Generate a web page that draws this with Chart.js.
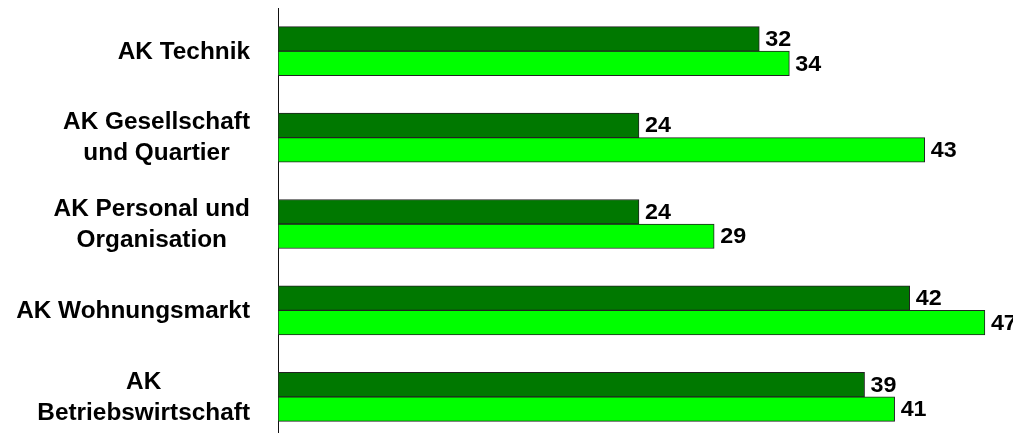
<!DOCTYPE html>
<html>
<head>
<meta charset="utf-8">
<script src="https://cdn.jsdelivr.net/npm/chart.js@4"></script>
<style>
    html, body { margin: 0; padding: 0; background: #fff; overflow: hidden; }
</style>
</head>
<body>
<canvas id="akChart" width="1030" height="440"></canvas>
<script>
// data
const categories = [
    ["AK Technik"],
    ["AK Gesellschaft", "und Quartier"],
    ["AK Personal und", "Organisation"],
    ["AK Wohnungsmarkt"],
    ["AK", "Betriebswirtschaft"]
];
const darkValues = [32, 24, 24, 42, 39];
const lightValues = [34, 43, 29, 47, 41];

const labelFont = 'bold 23px "Liberation Sans", Arial, sans-serif';
const valueFont = 'bold 22px "Liberation Sans", Arial, sans-serif';
const stretch = 1.06; // the original text is a bit wider than it is tall

// draws the category labels, each line centred inside a right aligned block
const categoryLabels = {
    id: 'categoryLabels',
    afterDraw(chart) {
        const ctx = chart.ctx;
        const yScale = chart.scales.y;
        ctx.save();
        ctx.font = labelFont;
        ctx.fillStyle = '#000';
        ctx.textAlign = 'center';
        ctx.textBaseline = 'middle';
        const right = 250;
        const lineHeight = 31;
        categories.forEach((lines, i) => {
            const maxW = Math.max(...lines.map(l => ctx.measureText(l).width)) * stretch;
            const cx = right - maxW / 2;
            const cy = yScale.getPixelForValue(i) + 1;
            lines.forEach((line, j) => {
                const y = cy + (j - (lines.length - 1) / 2) * lineHeight;
                ctx.save();
                ctx.translate(cx, y);
                ctx.scale(stretch, 1);
                ctx.fillText(line, 0, 0);
                ctx.restore();
            });
        });
        ctx.restore();
    }
};

// draws the values at the end of each bar
const valueLabels = {
    id: 'valueLabels',
    afterDatasetsDraw(chart) {
        const ctx = chart.ctx;
        ctx.save();
        ctx.font = valueFont;
        ctx.fillStyle = '#000';
        ctx.textAlign = 'left';
        ctx.textBaseline = 'middle';
        chart.data.datasets.forEach((ds, di) => {
            const meta = chart.getDatasetMeta(di);
            meta.data.forEach((bar, i) => {
                ctx.save();
                ctx.translate(bar.x + 6, bar.y + 1);
                ctx.scale(stretch, 1);
                ctx.fillText(String(ds.data[i]), 0, 0);
                ctx.restore();
            });
        });
        ctx.restore();
    }
};

new Chart("akChart", {
    type: 'bar',
    data: {
        labels: categories,
        datasets: [
            {
                label: 'Serie 1',
                data: darkValues,
                backgroundColor: '#007800',
                borderColor: '#222',
                borderWidth: 1,
                borderSkipped: false,
                barThickness: 24.5
            },
            {
                label: 'Serie 2',
                data: lightValues,
                backgroundColor: '#00ff00',
                borderColor: '#222',
                borderWidth: 1,
                borderSkipped: false,
                barThickness: 24.5
            }
        ]
    },
    options: {
        indexAxis: 'y',
        responsive: false,
        animation: false,
        devicePixelRatio: 1,
        layout: { padding: { top: 8, right: 0, bottom: 0, left: 0 } },
        plugins: {
            legend: { display: false },
            tooltip: { enabled: false }
        },
        scales: {
            x: {
                display: false,
                min: 0,
                max: 50
            },
            y: {
                grid: { display: false },
                border: { display: true, color: '#111', width: 1 },
                ticks: { display: false },
                afterFit: (scale) => { scale.width = 278; }
            }
        }
    },
    plugins: [categoryLabels, valueLabels]
});
</script>
</body>
</html>
